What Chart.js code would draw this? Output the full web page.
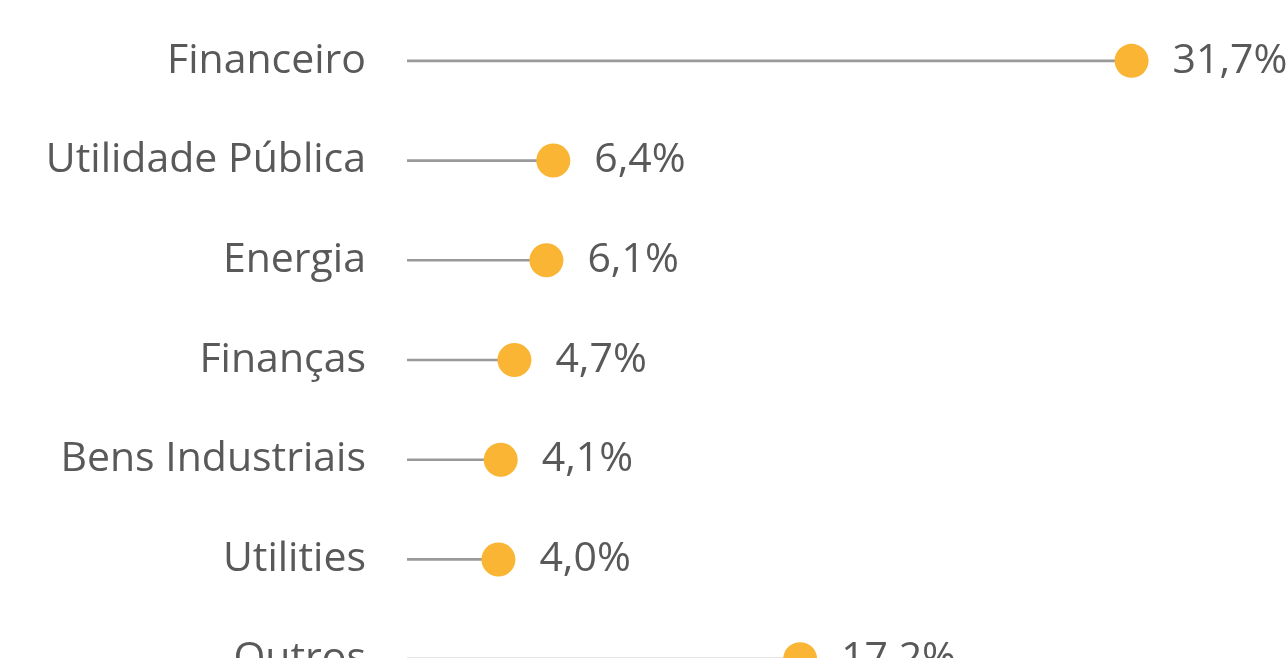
<!DOCTYPE html>
<html>
<head>
<meta charset="utf-8">
<script src="https://cdn.jsdelivr.net/npm/chart.js@4/dist/chart.umd.min.js"></script>
<style>
  html, body { margin: 0; padding: 0; background: #fff; overflow: hidden; }
  canvas { display: block; margin-top: -6px; }
</style>
</head>
<body>
<canvas id="lollipop" width="1288" height="732"></canvas>
<script>
const sectors = ["Financeiro", "Utilidade Pública", "Energia", "Finanças", "Bens Industriais", "Utilities", "Outros"];
const weights = [31.7, 6.4, 6.1, 4.7, 4.1, 4.0, 17.2];

const FONT = "'Open Sans', sans-serif";
const TEXT_COLOR = "#595959";

// draws the "31,7%" style labels right of each dot
const valueLabels = {
  id: "valueLabels",
  afterDatasetsDraw(chart) {
    const ctx = chart.ctx;
    const meta = chart.getDatasetMeta(1);
    ctx.save();
    ctx.font = "41px " + FONT;
    ctx.fillStyle = TEXT_COLOR;
    ctx.textAlign = "left";
    ctx.textBaseline = "middle";
    meta.data.forEach((pt, i) => {
      const txt = weights[i].toFixed(1).replace(".", ",") + "%";
      ctx.fillText(txt, pt.x + 41, pt.y);
    });
    ctx.restore();
  }
};

new Chart(document.getElementById("lollipop"), {
  data: {
    labels: sectors,
    datasets: [
      {
        type: "bar",
        data: weights,
        backgroundColor: "#9a9a9a",
        barThickness: 2,
        order: 2
      },
      {
        type: "line",
        data: weights,
        showLine: false,
        pointRadius: 17,
        pointHoverRadius: 17,
        pointBackgroundColor: "#F9B533",
        pointBorderWidth: 0,
        clip: false,
        order: 1
      }
    ]
  },
  options: {
    indexAxis: "y",
    responsive: false,
    animation: false,
    layout: { padding: { top: 10, right: 81, bottom: 0, left: 0 } },
    plugins: { legend: { display: false }, tooltip: { enabled: false } },
    scales: {
      x: { display: false, min: 0, max: 35 },
      y: {
        grid: { display: false, drawTicks: false },
        border: { display: false },
        ticks: { color: TEXT_COLOR, font: { family: FONT, size: 41 }, padding: 41 },
        afterFit(scale) {
          scale.width = 407;
          // tick padding should not push the plot area down
          scale.paddingTop = 0;
          scale.paddingBottom = 0;
        }
      }
    }
  },
  plugins: [valueLabels]
});
</script>
</body>
</html>
